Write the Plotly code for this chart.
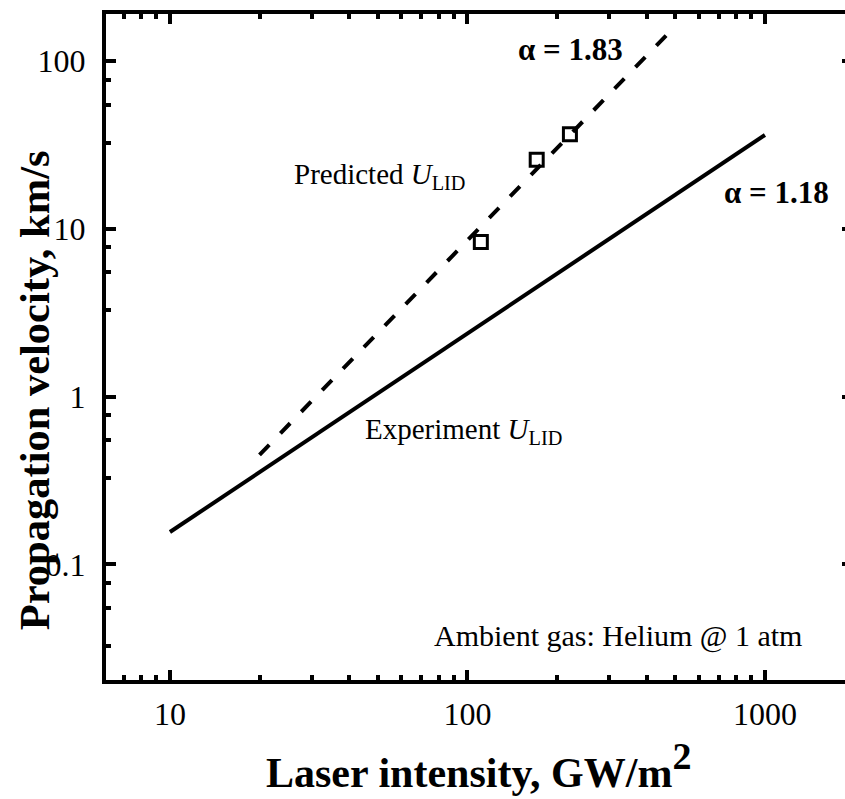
import plotly.graph_objects as go

# ---------------- data ----------------
experiment_x = [10, 1000]
experiment_y = [0.156, 36.3]

predicted_x = [20, 500]
predicted_y = [0.45, 162]

measured_x = [110.9, 170.9, 221]
measured_y = [8.34, 25.8, 36.6]

x_tick_vals = [10, 100, 1000]
x_tick_text = ["10", "100", "1000"]
x_minor_vals = [7, 8, 9, 20, 30, 40, 50, 60, 70, 80, 90,
                200, 300, 400, 500, 600, 700, 800, 900]

y_tick_vals = [0.1, 1, 10, 100]
y_tick_text = ["0.1", "1", "10", "100"]
y_minor_vals = [77.6, 55.1, 32.7, 7.76, 5.51, 3.27,
                0.776, 0.551, 0.327, 0.0776, 0.0551, 0.0327]

# ---------------- layout helpers ----------------
W, H = 845, 799
L_EDGE, R_EDGE, T_EDGE, B_EDGE = 106, 845, 13.5, 680
X_RANGE = [0.785, 0.785 + (R_EDGE - L_EDGE) / 297.5]
Y_RANGE = [-1.689, 2.281]


def px(x):
    return (x - L_EDGE) / (R_EDGE - L_EDGE)


def py(y):
    return (B_EDGE - y) / (B_EDGE - T_EDGE)


FONT = "Liberation Serif, Times New Roman, serif"

fig = go.Figure()

fig.add_trace(go.Scatter(
    x=experiment_x, y=experiment_y, mode="lines",
    line=dict(color="black", width=4), showlegend=False, hoverinfo="skip"))

fig.add_trace(go.Scatter(
    x=predicted_x, y=predicted_y, mode="lines",
    line=dict(color="black", width=4, dash="14px,16px"),
    showlegend=False, hoverinfo="skip"))

fig.add_trace(go.Scatter(
    x=measured_x, y=measured_y, mode="markers",
    marker=dict(symbol="square-open", size=13, color="black",
                line=dict(color="black", width=3)),
    showlegend=False, hoverinfo="skip"))

# invisible trace to activate top/right axes
fig.add_trace(go.Scatter(x=[10], y=[1], xaxis="x2", yaxis="y2", mode="markers",
                         marker=dict(opacity=0), showlegend=False, hoverinfo="skip"))

axis_common = dict(type="log", showgrid=False, zeroline=False,
                   linecolor="black", linewidth=4,
                   ticks="inside", ticklen=10, tickwidth=3.5, tickcolor="black")

fig.update_layout(
    width=W, height=H,
    margin=dict(l=L_EDGE, r=W - R_EDGE, t=T_EDGE, b=H - B_EDGE, autoexpand=False),
    paper_bgcolor="white", plot_bgcolor="white",
    font=dict(family=FONT, color="black"),
    xaxis=dict(**axis_common, range=X_RANGE, showline=True,
               tickmode="array", tickvals=x_tick_vals, ticktext=x_tick_text,
               tickfont=dict(size=32, family=FONT, color="black"),
               ticklabelstandoff=3,
               minor=dict(tickmode="array", tickvals=x_minor_vals, ticks="inside",
                          ticklen=5, tickwidth=3.5, tickcolor="black")),
    yaxis=dict(**axis_common, range=Y_RANGE, showline=True,
               tickmode="array", tickvals=y_tick_vals, ticktext=y_tick_text,
               tickfont=dict(size=32, family=FONT, color="black"),
               ticklabelstandoff=10,
               minor=dict(tickmode="array", tickvals=y_minor_vals, ticks="inside",
                          ticklen=5, tickwidth=3.5, tickcolor="black")),
    xaxis2=dict(**axis_common, range=X_RANGE, overlaying="x", side="top",
                showline=True, showticklabels=False, anchor="y",
                tickmode="array", tickvals=x_tick_vals,
                minor=dict(tickmode="array", tickvals=x_minor_vals, ticks="inside",
                           ticklen=5, tickwidth=3.5, tickcolor="black")),
    yaxis2=dict(type="log", range=Y_RANGE, overlaying="y", side="right",
                showgrid=False, zeroline=False, showline=False, anchor="x",
                showticklabels=False, tickmode="array", tickvals=y_tick_vals,
                ticks="inside", ticklen=3, tickwidth=3.5, tickcolor="black"),
)

ann = []
ann.append(dict(text="<b>α = 1.83</b>", x=px(570), y=py(49),
                font=dict(size=31, family=FONT, color="black"),
                xanchor="center", yanchor="middle"))
ann.append(dict(text="<b>α = 1.18</b>", x=px(776), y=py(192),
                font=dict(size=31, family=FONT, color="black"),
                xanchor="center", yanchor="middle"))
ann.append(dict(text="Predicted <i>U</i><sub>LID</sub>", x=px(292), y=py(176),
                font=dict(size=29, family=FONT, color="black"),
                xanchor="left", yanchor="middle"))
ann.append(dict(text="Experiment <i>U</i><sub>LID</sub>", x=px(363), y=py(431),
                font=dict(size=29, family=FONT, color="black"),
                xanchor="left", yanchor="middle"))
ann.append(dict(text="Ambient gas: Helium @ 1 atm", x=px(432), y=py(636),
                font=dict(size=30, family=FONT, color="black"),
                xanchor="left", yanchor="middle"))
ann.append(dict(text="<b>Laser intensity, GW/m<sup><span style='font-size:38px'>2</span></sup></b>",
                x=px(478), y=py(766),
                font=dict(size=42, family=FONT, color="black"),
                xanchor="center", yanchor="middle"))
ann.append(dict(text="<b>Propagation velocity, km/s</b>", x=px(34), y=py(390),
                textangle=-90,
                font=dict(size=42.5, family=FONT, color="black"),
                xanchor="center", yanchor="middle"))

for a in ann:
    a.update(xref="paper", yref="paper", showarrow=False)
fig.update_layout(annotations=ann)

fig.write_html("out.html")
